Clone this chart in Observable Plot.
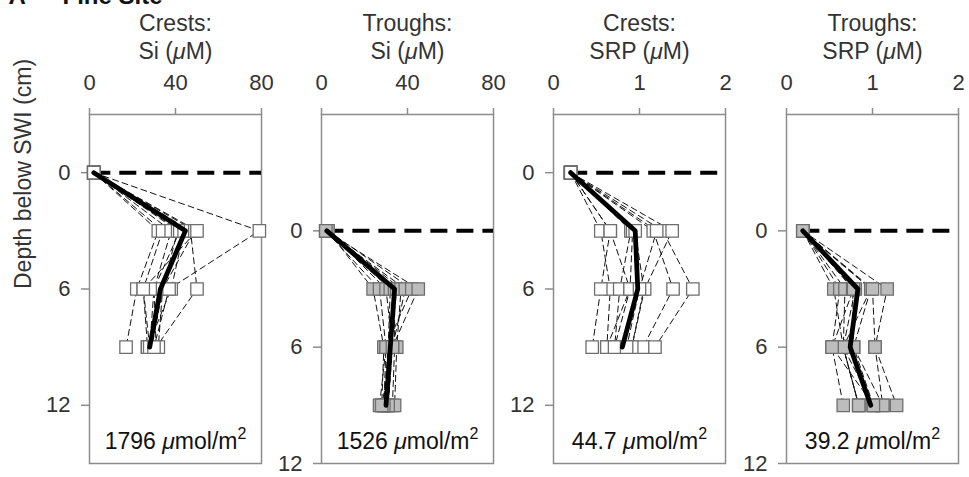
<!DOCTYPE html>
<html>
<head>
<meta charset="utf-8">
<script src="https://cdn.jsdelivr.net/npm/d3@7"></script>
<script src="https://cdn.jsdelivr.net/npm/@observablehq/plot@0.6"></script>
<style>
  body { margin: 0; background: #fff; }
  #chart { position: relative; width: 969px; height: 477px; overflow: hidden; }
  #chart svg { position: absolute; top: 0; }
</style>
</head>
<body>
<div id="chart"></div>
<script>
// Sampling depths below the sediment-water interface (cm)
const depths = [0, 3, 6, 9];
const depthTicks = [0, 6, 12];
const siTicks = [0, 40, 80];
const srpTicks = [0, 1, 2];

const panelTitles = ["Crests:\nSi (μM)", "Troughs:\nSi (μM)", "Crests:\nSRP (μM)", "Troughs:\nSRP (μM)"];
const fluxLabels = ["1796 μmol/m²", "1526 μmol/m²", "44.7 μmol/m²", "39.2 μmol/m²"];
const siteLabel = ["A", "Fine Site"];
const depthTitle = "Depth below SWI (cm)";

// Individual porewater profiles, one row per core: values at 0, 3, 6, 9 cm
const siCrestProfiles = [
  [2, 32, 22, 17],
  [2, 34, 25, 27],
  [2, 38, 30, 28],
  [2, 41, 34, 29],
  [2, 42, 30, 31],
  [2, 44, 38, 27],
  [2, 47, 50, 31],
  [2, 49, 34, 32],
  [2, 50, 25, 28],
  [2, 79, 37, 30]
];
const siCrestMean = [2, 44.6, 33, 28];

const siTroughProfiles = [
  [3, 24, 29, 28],
  [2, 27, 30, 27],
  [3, 30, 33, 31],
  [2, 32, 31, 29],
  [3, 34, 34, 33],
  [2, 35, 32, 30],
  [3, 37, 35, 34],
  [2, 39, 33, 31],
  [3, 42, 30, 29],
  [2, 45, 33, 28]
];
const siTroughMean = [2.5, 34, 32, 30];

const srpCrestProfiles = [
  [0.2, 0.55, 0.66, 0.62],
  [0.2, 0.66, 0.55, 0.45],
  [0.2, 0.90, 0.77, 0.71],
  [0.2, 0.92, 0.89, 0.62],
  [0.2, 0.95, 1.05, 0.91],
  [0.2, 1.16, 1.39, 1.04],
  [0.2, 1.27, 1.62, 1.18],
  [0.2, 1.38, 1.06, 0.91],
  [0.2, 0.66, 0.89, 0.71],
  [0.2, 1.20, 1.00, 0.85]
];
const srpCrestMean = [0.2, 0.95, 0.98, 0.8];

const srpTroughProfiles = [
  [0.19, 0.55, 0.66, 0.84],
  [0.19, 0.62, 0.53, 0.66],
  [0.19, 0.68, 0.66, 0.84],
  [0.19, 0.77, 0.78, 1.01],
  [0.19, 0.80, 0.66, 1.01],
  [0.19, 0.98, 0.78, 1.12],
  [0.19, 1.17, 1.03, 1.12],
  [0.19, 0.98, 0.66, 0.84],
  [0.19, 0.78, 0.53, 1.01],
  [0.19, 1.00, 1.03, 1.28]
];
const srpTroughMean = [0.19, 0.83, 0.74, 0.98];

const font = '"Liberation Sans", Arial, Helvetica, sans-serif';
const frameGray = "#8c8c8c";
const textColor = "#333";

// Layout of the four panels (troughs are drawn 3 cm lower than crests)
const panels = [
  {title: panelTitles[0], flux: fluxLabels[0], profiles: siCrestProfiles, mean: siCrestMean,
   xDomain: [0, 80], xTicks: siTicks, yDomain: [-3, 15], fill: "#fff",
   left: 0, width: 264, marginLeft: 89, first: true},
  {title: panelTitles[1], flux: fluxLabels[1], profiles: siTroughProfiles, mean: siTroughMean,
   xDomain: [0, 80], xTicks: siTicks, yDomain: [-6, 12], fill: "#bdbdbd",
   left: 264, width: 232, marginLeft: 57},
  {title: panelTitles[2], flux: fluxLabels[2], profiles: srpCrestProfiles, mean: srpCrestMean,
   xDomain: [0, 2], xTicks: srpTicks, yDomain: [-3, 15], fill: "#fff",
   left: 496, width: 233, marginLeft: 57},
  {title: panelTitles[3], flux: fluxLabels[3], profiles: srpTroughProfiles, mean: srpTroughMean,
   xDomain: [0, 2], xTicks: srpTicks, yDomain: [-6, 12], fill: "#bdbdbd",
   left: 729, width: 240, marginLeft: 57}
];

// Italic mu and a raised exponent inside SVG text
function styleUnits(svg) {
  const ns = "http://www.w3.org/2000/svg";
  const walker = document.createTreeWalker(svg, NodeFilter.SHOW_TEXT);
  const nodes = [];
  while (walker.nextNode()) nodes.push(walker.currentNode);
  for (const node of nodes) {
    const s = node.data;
    if (!/[μ²]/.test(s)) continue;
    const parent = node.parentNode;
    for (const part of s.split(/([μ²])/)) {
      if (!part) continue;
      let el;
      if (part === "μ") {
        el = document.createElementNS(ns, "tspan");
        el.setAttribute("font-style", "italic");
        el.textContent = "μ";
      } else if (part === "²") {
        el = document.createElementNS(ns, "tspan");
        el.setAttribute("dy", "-10");
        el.setAttribute("font-size", "16");
        el.textContent = "2";
      } else {
        el = document.createTextNode(part);
      }
      parent.insertBefore(el, node);
    }
    parent.removeChild(node);
  }
}

const chart = document.getElementById("chart");

for (const p of panels) {
  const rows = p.profiles.flatMap((prof, i) => prof.map((v, j) => ({core: i, depth: depths[j], value: v})));
  const meanRows = p.mean.map((v, j) => ({depth: depths[j], value: v}));
  const surface = [{depth: 0, x1: p.mean[0], x2: p.xDomain[1]}];

  const marks = [
    Plot.frame({stroke: frameGray, strokeWidth: 1.5}),
    Plot.axisX({anchor: "top", ticks: p.xTicks, tickFormat: (d) => String(d), tickSize: 7, tickPadding: 18,
      label: null, stroke: frameGray, strokeWidth: 1.5, fill: textColor, fontSize: 22}),
    Plot.axisY({anchor: "left", ticks: depthTicks, tickFormat: (d) => String(d), tickSize: 8, tickPadding: 11,
      label: null, stroke: frameGray, strokeWidth: 1.5, fill: textColor, fontSize: 22}),
    Plot.ruleY(surface, {y: "depth", x1: "x1", x2: "x2", stroke: "#000", strokeWidth: 4, strokeDasharray: "17,9"}),
    Plot.line(rows, {x: "value", y: "depth", z: "core", stroke: "#111", strokeWidth: 1, strokeDasharray: "6,4"}),
    Plot.dot(rows, {x: "value", y: "depth", symbol: "square", r: 7, fill: p.fill, stroke: "#6e6e6e", strokeWidth: 1.3}),
    Plot.line(meanRows, {x: "value", y: "depth", stroke: "#000", strokeWidth: 4.8}),
    Plot.text([p.title], {frameAnchor: "top", lineAnchor: "bottom", dy: -56, lineHeight: 1.2, fontSize: 23, fill: textColor}),
    Plot.text([p.flux], {frameAnchor: "bottom", lineAnchor: "bottom", dy: -15, fontSize: 23, fill: "#111"})
  ];
  if (p.first) {
    marks.push(
      Plot.text([depthTitle], {frameAnchor: "left", dx: -66, rotate: -90, fontSize: 23, fill: textColor}),
      Plot.text([siteLabel[0]], {frameAnchor: "top-left", dx: -81, dy: -111, lineAnchor: "bottom",
        textAnchor: "start", fontSize: 24, fontWeight: "bold", fill: "#111"}),
      Plot.text([siteLabel[1]], {frameAnchor: "top-left", dx: -27, dy: -111, lineAnchor: "bottom",
        textAnchor: "start", fontSize: 24, fontWeight: "bold", fill: "#111"})
    );
  }

  const svg = Plot.plot({
    width: p.width,
    height: 477,
    marginTop: 114,
    marginBottom: 14,
    marginLeft: p.marginLeft,
    marginRight: p.width - p.marginLeft - 172,
    style: {background: "transparent", overflow: "visible", fontFamily: font, fontSize: "22px", color: textColor},
    x: {domain: p.xDomain},
    y: {domain: p.yDomain, reverse: true},
    marks
  });
  svg.style.left = p.left + "px";
  styleUnits(svg);
  chart.appendChild(svg);
}
</script>
</body>
</html>
